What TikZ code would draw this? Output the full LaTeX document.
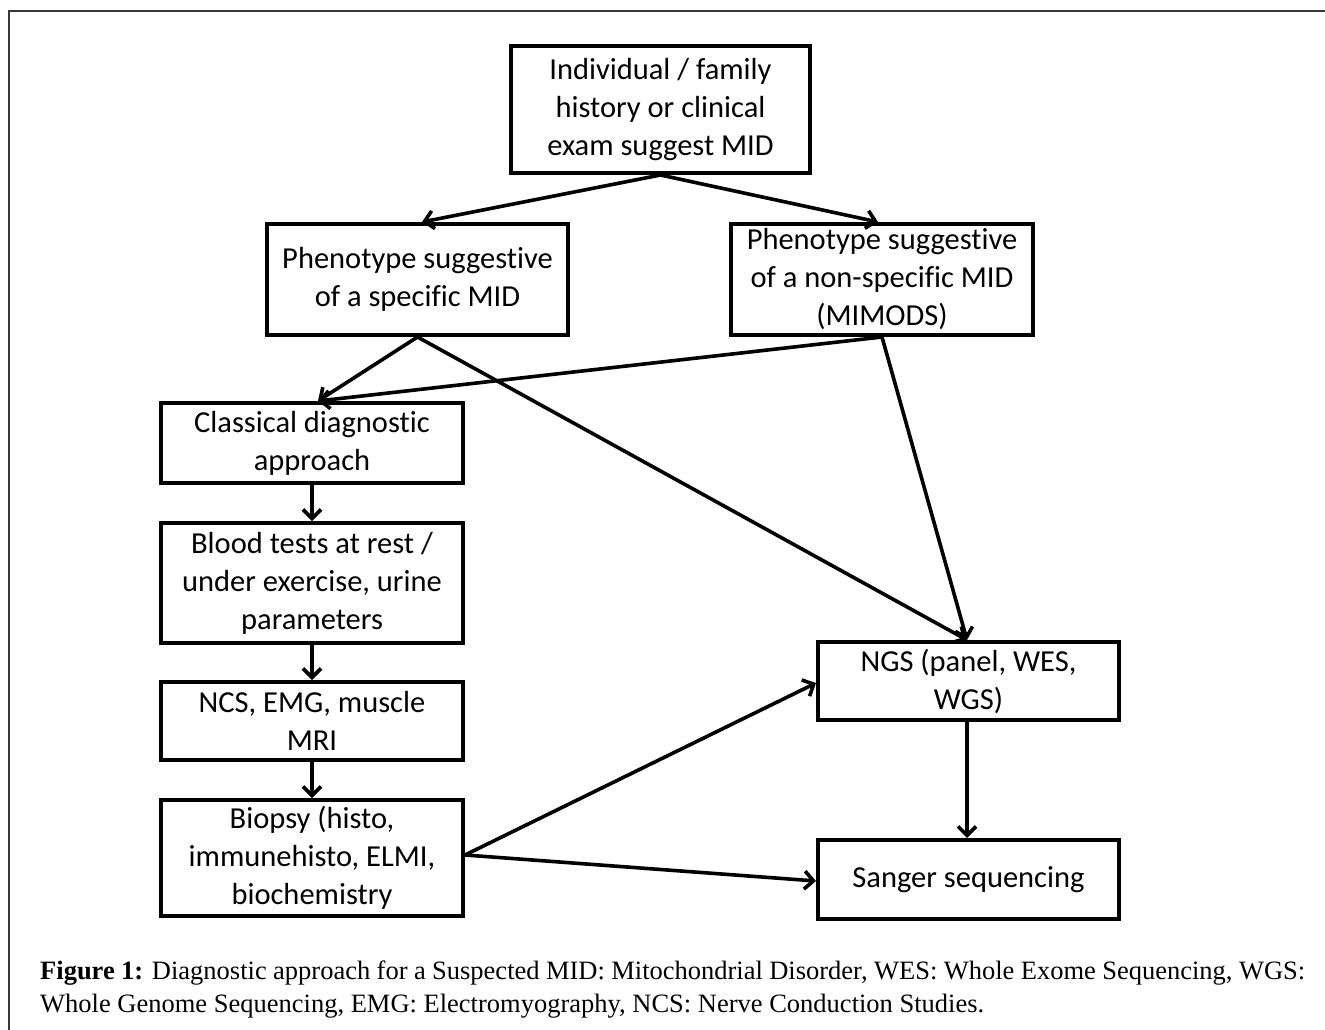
\documentclass[tikz,border=0pt]{standalone}
\usepackage{fontspec}
\setmainfont[Ligatures=NoCommon]{Carlito}
\newfontfamily\capfont{Liberation Serif}
\usetikzlibrary{arrows.meta,calc}
\tikzset{
  flowbox/.style={draw=black, line width=4pt, inner sep=0pt, align=center,
    font=\fontsize{30.5}{38}\selectfont},
  arr/.style={line width=3.6pt, -{Straight Barb[length=9pt,width=18pt]}},
}
\begin{document}
\begin{tikzpicture}[x=1pt,y=-1pt]
\useasboundingbox (0,0) rectangle (1325,1030);
\fill[white] (0,0) rectangle (1325,1030);
% outer frame (partially visible)
\draw[line width=2.4pt, black!78, line cap=rect] (9,1031) -- (9,11) -- (1326,11);

\node[flowbox, minimum width=299pt, minimum height=127pt] (top) at (660.5,109.5)
  {Individual / family\\history or clinical\\exam suggest MID};
\node[flowbox, minimum width=301pt, minimum height=111pt] (spec) at (417.5,279.5)
  {Phenotype suggestive\\of a specific MID};
\node[flowbox, minimum width=302pt, minimum height=111pt] (nonspec) at (882,279.5)
  {Phenotype suggestive\\of a non-specific MID\\(MIMODS)};
\node[flowbox, minimum width=302pt, minimum height=80pt] (classical) at (312,443)
  {Classical diagnostic\\approach};
\node[flowbox, minimum width=302pt, minimum height=120pt] (blood) at (312,583)
  {Blood tests at rest /\\under exercise, urine\\parameters};
\node[flowbox, minimum width=302pt, minimum height=78pt] (ncs) at (312,721)
  {NCS, EMG, muscle\\MRI};
\node[flowbox, minimum width=302pt, minimum height=116pt] (biopsy) at (312,858)
  {Biopsy (histo,\\immunehisto, ELMI,\\biochemistry};
\node[flowbox, minimum width=301pt, minimum height=78pt] (ngs) at (968.5,681)
  {NGS (panel, WES,\\WGS)};
\node[flowbox, minimum width=301pt, minimum height=79pt] (sanger) at (968.5,879.5)
  {Sanger sequencing};

\draw[arr] (top.south) -- ([xshift=4.5pt]spec.north);
\draw[arr] (top.south) -- ([xshift=-4pt]nonspec.north);
\draw[arr] (spec.south) -- ([xshift=6pt]classical.north);
\draw[arr] (nonspec.south) -- ([xshift=6pt]classical.north);
\draw[arr] (spec.south) -- ([xshift=-1.5pt]ngs.north);
\draw[arr] (nonspec.south) -- ([xshift=-1.5pt]ngs.north);
\draw[arr] (classical.south) -- (blood.north);
\draw[arr] (blood.south) -- (ncs.north);
\draw[arr] (ncs.south) -- (biopsy.north);
\draw[arr] ([yshift=3pt]biopsy.east) -- ([yshift=-2pt]ngs.west);
\draw[arr] ([yshift=3pt]biopsy.east) -- ([yshift=-1.5pt]sanger.west);
\draw[arr] ([xshift=-1.5pt]ngs.south) -- ([xshift=-1.5pt]sanger.north);

\node[anchor=north west, inner sep=0pt, align=left,
  font=\capfont\fontsize{26.5}{33}\selectfont] (caption) at (40,956)
  {\strut\makebox[1265pt][s]{\textbf{Figure 1:} Diagnostic approach for a Suspected MID: Mitochondrial Disorder, WES: Whole Exome Sequencing, WGS:}\\
   Whole Genome Sequencing, EMG: Electromyography, NCS: Nerve Conduction Studies.};
\end{tikzpicture}
\end{document}
